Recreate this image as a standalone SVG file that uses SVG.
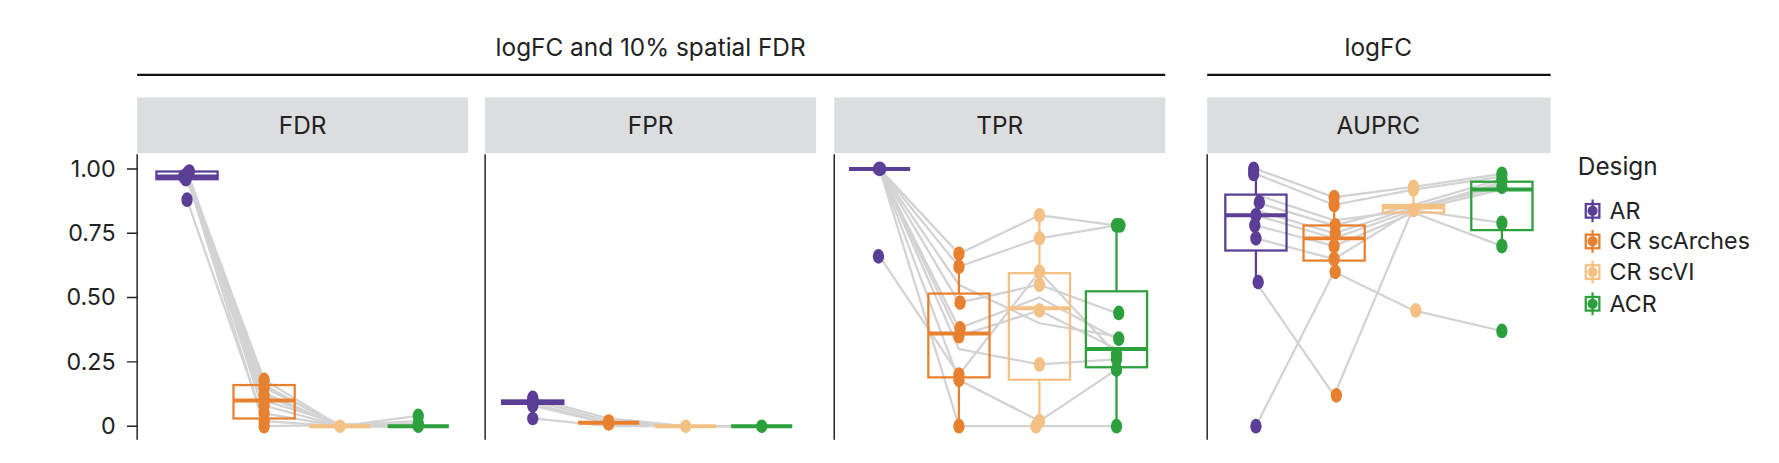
<svg xmlns="http://www.w3.org/2000/svg" width="1779" height="463" viewBox="0 0 1779 463">
<style>
text{font-family:"Inter","Liberation Sans",sans-serif;fill:#222;font-size:20.5px}
.ttl{font-size:21.5px;text-anchor:middle}
.strip{fill:#dcdddf}
.ax{stroke:#222;stroke-width:1.3;fill:none}
.tk{text-anchor:end}
.ln polyline{fill:none;stroke:#d3d3d3;stroke-width:2}
.b{fill:none;stroke-width:2}
.m{stroke-width:3.5}
.ar{stroke:#5b3e96;fill:#5b3e96}
.sa{stroke:#e8812f;fill:#e8812f}
.sv{stroke:#f4c185;fill:#f4c185}
.ac{stroke:#2ca03c;fill:#2ca03c}
.p ellipse{stroke:none}
</style>
<g transform="scale(1.1335)">
<g id="headers">
<text class="ttl" x="574" y="49">logFC and 10% spatial FDR</text>
<line x1="121" y1="66" x2="1028" y2="66" stroke="#111" stroke-width="2"/>
<text class="ttl" x="1216" y="49">logFC</text>
<line x1="1065" y1="66" x2="1368" y2="66" stroke="#111" stroke-width="2"/>
</g>
<g id="strips">
<rect class="strip" x="121" y="86" width="292" height="49"/><text class="ttl" x="267" y="118">FDR</text>
<rect class="strip" x="428" y="86" width="292" height="49"/><text class="ttl" x="574" y="118">FPR</text>
<rect class="strip" x="736" y="86" width="292" height="49"/><text class="ttl" x="882" y="118">TPR</text>
<rect class="strip" x="1065" y="86" width="303" height="49"/><text class="ttl" x="1216" y="118">AUPRC</text>
</g>
<g id="axes">
<line class="ax" x1="121" y1="136" x2="121" y2="388"/>
<line class="ax" x1="428" y1="136" x2="428" y2="388"/>
<line class="ax" x1="736" y1="136" x2="736" y2="388"/>
<line class="ax" x1="1065" y1="136" x2="1065" y2="388"/>
<path class="ax" d="M112 149H121M112 205.75H121M112 262.5H121M112 319.25H121M112 376H121"/>
<text class="tk" x="102" y="156">1.00</text>
<text class="tk" x="102" y="213">0.75</text>
<text class="tk" x="102" y="269">0.50</text>
<text class="tk" x="102" y="326">0.25</text>
<text class="tk" x="102" y="383">0</text>
</g>
<g id="connectors" class="ln">
<polyline points="165,153.5 233,335.1 300,376 369,376"/>
<polyline points="165,155.8 233,341.9 300,375 369,376"/>
<polyline points="165,151.3 233,348.8 300,376 369,366.9"/>
<polyline points="165,158.1 233,353.3 300,374 369,376"/>
<polyline points="165,155.8 233,357.8 300,376 369,373.7"/>
<polyline points="165,153.5 233,364.7 300,376 369,376"/>
<polyline points="165,176.2 233,371.5 300,376 369,376"/>
<polyline points="165,155.8 233,376 300,375 369,371.5"/>
<polyline points="165,158.1 233,346.5 300,376 369,376"/>
<polyline points="165,151.3 233,339.7 300,376 369,376"/>
<polyline points="470,353.3 537,371.5 605,376 672,376"/>
<polyline points="470,355.6 537,373.7 605,376 672,376"/>
<polyline points="470,351 537,369.2 605,376 672,376"/>
<polyline points="470,357.8 537,373.7 605,376 672,376"/>
<polyline points="470,369.2 537,376 605,376 672,376"/>
<polyline points="776,149 846,223.9 917,189.9 985,198.9"/>
<polyline points="776,149 846,235.3 917,210.3 985,198.9"/>
<polyline points="776,149 846,267 917,251.2 985,276.1"/>
<polyline points="776,149 846,289.7 917,262.5 985,298.8"/>
<polyline points="776,149 846,296.6 917,273.9 985,307.9"/>
<polyline points="776,149 846,307.9 917,321.5 985,317"/>
<polyline points="776,149 846,335.1 917,371.5 985,326.1"/>
<polyline points="776,149 846,376 917,376 985,376"/>
<polyline points="776,226.2 846,330.6 917,239.8 985,312.4"/>
<polyline points="776,149 846,251.2 917,285.2 985,296.6"/>
<polyline points="1108,149 1177,174 1247,164.9 1325,153.5"/>
<polyline points="1108,153.5 1177,180.8 1247,167.2 1325,155.8"/>
<polyline points="1108,178.5 1177,198.9 1247,180.8 1325,158.1"/>
<polyline points="1108,185.3 1177,205.8 1247,183.1 1325,162.6"/>
<polyline points="1108,189.9 1177,210.3 1247,185.3 1325,196.7"/>
<polyline points="1108,198.9 1177,217.1 1247,187.6 1325,217.1"/>
<polyline points="1108,210.3 1177,228.5 1247,185.3 1325,167.2"/>
<polyline points="1108,248.9 1177,348.8 1247,183.1 1325,164.9"/>
<polyline points="1108,376 1177,239.8 1247,273.9 1325,292"/>
<polyline points="1108,171.7 1177,194.4 1247,185.3 1325,160.3"/>
</g>
<g id="boxes">
<g class="b ar"><rect x="138" y="151.3" width="54" height="6.8" fill="none"/><line class="m" x1="138" y1="155.8" x2="192" y2="155.8"/></g>
<g class="b sa"><rect x="206" y="339.7" width="54" height="29.5" fill="none"/><line class="m" x1="206" y1="353.3" x2="260" y2="353.3"/><line x1="233" y1="335" x2="233" y2="339.7"/><line x1="233" y1="369.2" x2="233" y2="376"/></g>
<g class="b sv"><line class="m" x1="273" y1="376" x2="327" y2="376"/></g>
<g class="b ac"><line class="m" x1="342" y1="376" x2="396" y2="376"/></g>
<g class="b ar"><rect x="443" y="353.3" width="54" height="3" fill="none"/><line class="m" x1="443" y1="355" x2="497" y2="355"/></g>
<g class="b sa"><line class="m" x1="510" y1="373" x2="564" y2="373"/></g>
<g class="b sv"><line class="m" x1="578" y1="376" x2="632" y2="376"/></g>
<g class="b ac"><line class="m" x1="645" y1="376" x2="699" y2="376"/></g>
<g class="b ar"><line class="m" x1="749" y1="149" x2="803" y2="149"/></g>
<g class="b sa"><rect x="819" y="259" width="54" height="73.9" fill="none"/><line class="m" x1="819" y1="294.3" x2="873" y2="294.3"/><line x1="846" y1="223.9" x2="846" y2="259"/><line x1="846" y1="332.9" x2="846" y2="376"/></g>
<g class="b sv"><rect x="890" y="241" width="54" height="94" fill="none"/><line class="m" x1="890" y1="272" x2="944" y2="272"/><line x1="917" y1="189.9" x2="917" y2="241"/><line x1="917" y1="335" x2="917" y2="376"/></g>
<g class="b ac"><rect x="958" y="257" width="54" height="67" fill="none"/><line class="m" x1="958" y1="307.9" x2="1012" y2="307.9"/><line x1="985" y1="198.9" x2="985" y2="257"/><line x1="985" y1="324" x2="985" y2="376"/></g>
<g class="b ar"><rect x="1081" y="171.7" width="54" height="49.3" fill="none"/><line class="m" x1="1081" y1="189.9" x2="1135" y2="189.9"/><line x1="1108" y1="149" x2="1108" y2="171.7"/><line x1="1108" y1="221" x2="1108" y2="248.9"/></g>
<g class="b sa"><rect x="1150" y="198.9" width="54" height="31" fill="none"/><line class="m" x1="1150" y1="210.3" x2="1204" y2="210.3"/><line x1="1177" y1="174" x2="1177" y2="198.9"/><line x1="1177" y1="229.9" x2="1177" y2="239.8"/></g>
<g class="b sv"><rect x="1220" y="180.8" width="54" height="6.8" fill="none"/><line class="m" x1="1220" y1="183.1" x2="1274" y2="183.1"/><line x1="1247" y1="164.9" x2="1247" y2="180.8"/></g>
<g class="b ac"><rect x="1298" y="160.3" width="54" height="42.7" fill="none"/><line class="m" x1="1298" y1="167.2" x2="1352" y2="167.2"/><line x1="1325" y1="153.5" x2="1325" y2="160.3"/><line x1="1325" y1="203" x2="1325" y2="217.1"/></g>
</g>
<g id="points" class="p">
<g class="ar"><ellipse cx="165" cy="153.5" rx="5" ry="6.5"/><ellipse cx="162" cy="155.8" rx="5" ry="6.5"/><ellipse cx="167" cy="151.3" rx="5" ry="6.5"/><ellipse cx="164" cy="158.1" rx="5" ry="6.5"/><ellipse cx="165" cy="176.2" rx="5" ry="6.5"/></g>
<g class="sa"><ellipse cx="233" cy="335.1" rx="5" ry="6.5"/><ellipse cx="233" cy="341.9" rx="5" ry="6.5"/><ellipse cx="233" cy="348.8" rx="5" ry="6.5"/><ellipse cx="233" cy="353.3" rx="5" ry="6.5"/><ellipse cx="233" cy="357.8" rx="5" ry="6.5"/><ellipse cx="233" cy="364.7" rx="5" ry="6.5"/><ellipse cx="233" cy="371.5" rx="5" ry="6.5"/><ellipse cx="233" cy="376" rx="5" ry="6.5"/></g>
<g class="sv"><ellipse cx="300" cy="376" rx="5" ry="6"/></g>
<g class="ac"><ellipse cx="369" cy="366.9" rx="5" ry="6.5"/><ellipse cx="369" cy="373.7" rx="5" ry="6"/><ellipse cx="369" cy="376" rx="5" ry="6"/></g>
<g class="ar"><ellipse cx="470" cy="353.3" rx="5" ry="6.5"/><ellipse cx="470" cy="351" rx="5" ry="6.5"/><ellipse cx="470" cy="357.8" rx="5" ry="6.5"/><ellipse cx="470" cy="369.2" rx="5" ry="6"/></g>
<g class="sa"><ellipse cx="537" cy="371.5" rx="5" ry="6"/><ellipse cx="537" cy="374" rx="5" ry="6"/></g>
<g class="sv"><ellipse cx="605" cy="376" rx="5" ry="6"/></g>
<g class="ac"><ellipse cx="672" cy="376" rx="5" ry="6"/></g>
<g class="ar"><ellipse cx="776" cy="149" rx="6" ry="6.5"/><ellipse cx="775" cy="226.2" rx="5" ry="6.5"/></g>
<g class="sa"><ellipse cx="846" cy="223.9" rx="5" ry="6.5"/><ellipse cx="846" cy="235.3" rx="5" ry="6.5"/><ellipse cx="847" cy="267" rx="5" ry="6.5"/><ellipse cx="847" cy="289.7" rx="5" ry="6.5"/><ellipse cx="846" cy="296.6" rx="5" ry="6.5"/><ellipse cx="846" cy="330.6" rx="5" ry="6.5"/><ellipse cx="846" cy="335.1" rx="5" ry="6.5"/><ellipse cx="846" cy="376" rx="5" ry="6.5"/></g>
<g class="sv"><ellipse cx="917" cy="189.9" rx="5" ry="6.5"/><ellipse cx="917" cy="210.3" rx="5" ry="6.5"/><ellipse cx="917" cy="239.8" rx="5" ry="6.5"/><ellipse cx="917" cy="251.2" rx="5" ry="6.5"/><ellipse cx="917" cy="273.9" rx="5" ry="6.5"/><ellipse cx="917" cy="321.5" rx="5" ry="6.5"/><ellipse cx="917" cy="371.5" rx="5" ry="6.5"/><ellipse cx="914" cy="376" rx="5" ry="6.5"/></g>
<g class="ac"><ellipse cx="985" cy="198.9" rx="5" ry="6.5"/><ellipse cx="988" cy="198.9" rx="5" ry="6.5"/><ellipse cx="987" cy="276.1" rx="5" ry="6.5"/><ellipse cx="987" cy="298.8" rx="5" ry="6.5"/><ellipse cx="985" cy="312.4" rx="5" ry="6.5"/><ellipse cx="985" cy="317" rx="5" ry="6.5"/><ellipse cx="985" cy="326.1" rx="5" ry="6.5"/><ellipse cx="985" cy="376" rx="5" ry="6.5"/></g>
<g class="ar"><ellipse cx="1106" cy="149" rx="5" ry="6.5"/><ellipse cx="1106" cy="153.5" rx="5" ry="6.5"/><ellipse cx="1111" cy="178.5" rx="5" ry="6.5"/><ellipse cx="1108" cy="189.9" rx="5" ry="6.5"/><ellipse cx="1107" cy="198.9" rx="5" ry="6.5"/><ellipse cx="1108" cy="210.3" rx="5" ry="6.5"/><ellipse cx="1110" cy="248.9" rx="5" ry="6.5"/><ellipse cx="1108" cy="376" rx="5" ry="6.5"/></g>
<g class="sa"><ellipse cx="1177" cy="174" rx="5" ry="6.5"/><ellipse cx="1177" cy="180.8" rx="5" ry="6.5"/><ellipse cx="1178" cy="198.9" rx="5" ry="6.5"/><ellipse cx="1178" cy="205.8" rx="5" ry="6.5"/><ellipse cx="1177" cy="217.1" rx="5" ry="6.5"/><ellipse cx="1177" cy="228.5" rx="5" ry="6.5"/><ellipse cx="1178" cy="239.8" rx="5" ry="6.5"/><ellipse cx="1179" cy="348.8" rx="5" ry="6.5"/></g>
<g class="sv"><ellipse cx="1247" cy="164.9" rx="5" ry="6.5"/><ellipse cx="1247" cy="167.2" rx="5" ry="6.5"/><ellipse cx="1247" cy="185.3" rx="5" ry="6.5"/><ellipse cx="1249" cy="273.9" rx="5" ry="6.5"/></g>
<g class="ac"><ellipse cx="1325" cy="153.5" rx="5" ry="6.5"/><ellipse cx="1325" cy="158.1" rx="5" ry="6.5"/><ellipse cx="1325" cy="164.9" rx="5" ry="6.5"/><ellipse cx="1325" cy="196.7" rx="5" ry="6.5"/><ellipse cx="1325" cy="217.1" rx="5" ry="6.5"/><ellipse cx="1325" cy="292" rx="5" ry="6.5"/></g>
</g>
<g id="legend">
<text x="1392" y="154" style="font-size:21.5px">Design</text>
<g class="b ar"><rect x="1399" y="180" width="12" height="12" fill="none"/><line x1="1405" y1="176" x2="1405" y2="196"/><circle cx="1405" cy="186" r="4.5" stroke="none"/></g>
<text x="1420" y="193">AR</text>
<g class="b sa"><rect x="1399" y="207" width="12" height="12" fill="none"/><line x1="1405" y1="203" x2="1405" y2="223"/><circle cx="1405" cy="213" r="4.5" stroke="none"/></g>
<text x="1420" y="220">CR scArches</text>
<g class="b sv"><rect x="1399" y="234" width="12" height="12" fill="none"/><line x1="1405" y1="230" x2="1405" y2="250"/><circle cx="1405" cy="240" r="4.5" stroke="none"/></g>
<text x="1420" y="247">CR scVI</text>
<g class="b ac"><rect x="1399" y="262" width="12" height="12" fill="none"/><line x1="1405" y1="258" x2="1405" y2="278"/><circle cx="1405" cy="268" r="4.5" stroke="none"/></g>
<text x="1420" y="275">ACR</text>
</g>
</g>
</svg>
